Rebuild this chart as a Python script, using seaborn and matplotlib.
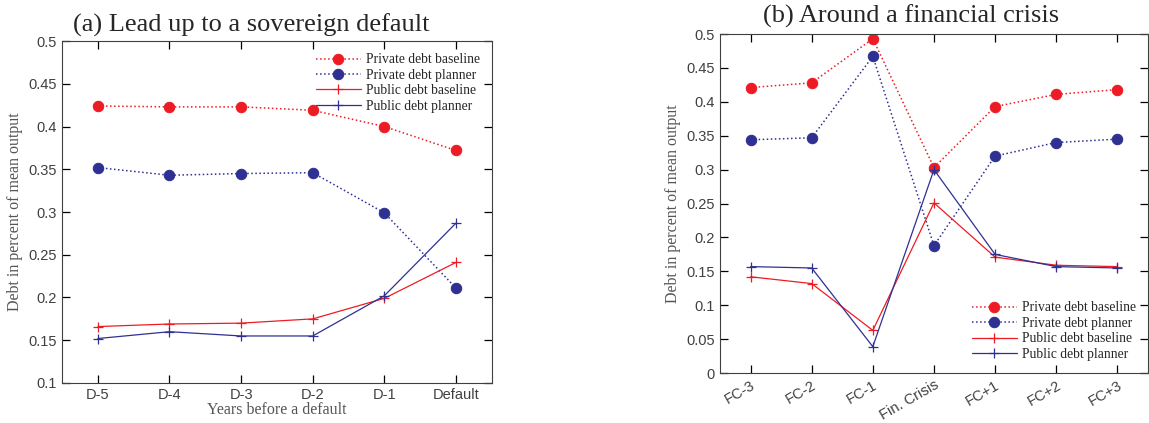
import numpy as np
import matplotlib
matplotlib.use("Agg")
import matplotlib.pyplot as plt
import seaborn as sns

# ---- data ----
cats_a = ["D-5", "D-4", "D-3", "D-2", "D-1", "Default"]
priv_base_a = [0.424, 0.423, 0.423, 0.419, 0.400, 0.372]
priv_plan_a = [0.352, 0.343, 0.345, 0.346, 0.299, 0.211]
pub_base_a = [0.166, 0.169, 0.170, 0.175, 0.199, 0.241]
pub_plan_a = [0.152, 0.160, 0.155, 0.155, 0.202, 0.287]

cats_b = ["FC-3", "FC-2", "FC-1", "Fin. Crisis", "FC+1", "FC+2", "FC+3"]
priv_base_b = [0.421, 0.428, 0.493, 0.303, 0.393, 0.411, 0.418]
priv_plan_b = [0.344, 0.347, 0.467, 0.188, 0.320, 0.340, 0.345]
pub_base_b = [0.142, 0.132, 0.063, 0.251, 0.171, 0.159, 0.157]
pub_plan_b = [0.157, 0.155, 0.039, 0.300, 0.175, 0.157, 0.155]

labels = ["Private debt baseline", "Private debt planner",
          "Public debt baseline", "Public debt planner"]

RED = "#ED1C24"
BLUE = "#2E3192"
AXC = "#404040"
SERIF = ["Liberation Serif", "DejaVu Serif"]

sns.set_theme(style="white", rc={
    "xtick.bottom": True, "xtick.top": True,
    "ytick.left": True, "ytick.right": True,
    "xtick.direction": "in", "ytick.direction": "in",
    "xtick.major.size": 6, "ytick.major.size": 6,
    "xtick.major.width": 0.9, "ytick.major.width": 0.9,
    "xtick.color": "black", "ytick.color": "black",
    "xtick.labelcolor": AXC, "ytick.labelcolor": AXC,
    "xtick.labelsize": 10.5, "ytick.labelsize": 10.5,
    "axes.edgecolor": AXC, "axes.linewidth": 0.8,
})
plt.rcParams["font.family"] = ["Liberation Sans", "DejaVu Sans"]

fig = plt.figure(figsize=(11.49, 4.23), dpi=100)
ax_a = fig.add_axes([0.054, 0.0946, 0.374, 0.8084])
ax_b = fig.add_axes([0.6266, 0.118, 0.3725, 0.8016])


def fmt(v):
    return f"{v:.2f}".rstrip("0").rstrip(".")


def draw(ax, cats, pb, pp, ub, up, ymin):
    x = np.arange(len(cats))
    sns.lineplot(x=x, y=pb, ax=ax, color=RED, linestyle=":", marker="o",
                 markersize=7.5, markeredgecolor=RED, linewidth=1.1, sort=False,
                 label=labels[0], zorder=1)
    sns.lineplot(x=x, y=pp, ax=ax, color=BLUE, linestyle=":", marker="o",
                 markersize=7.5, markeredgecolor=BLUE, linewidth=1.1, sort=False,
                 label=labels[1], zorder=1)
    sns.lineplot(x=x, y=ub, ax=ax, color=RED, linestyle="-", marker="+",
                 markersize=7, markeredgecolor=RED, markeredgewidth=0.9,
                 linewidth=0.9, sort=False, label=labels[2], zorder=1)
    sns.lineplot(x=x, y=up, ax=ax, color=BLUE, linestyle="-", marker="+",
                 markersize=7, markeredgecolor=BLUE, markeredgewidth=0.9,
                 linewidth=0.9, sort=False, label=labels[3], zorder=1)
    ax.set_xticks(x)
    ax.set_xlim(-0.5, len(cats) - 0.5)
    yt = np.round(np.arange(ymin, 0.501, 0.05), 2)
    ax.set_yticks(yt)
    ax.set_yticklabels([fmt(v) for v in yt])
    ax.set_ylim(ymin, 0.5)
    ax.tick_params(direction="in", top=True, right=True, bottom=True,
                   left=True, length=6, width=0.9)
    ax.set_ylabel("Debt in percent of mean output", family=SERIF,
                  fontsize=11.5, color="#555555", labelpad=4)


legkw = dict(frameon=False, prop={"family": SERIF, "size": 9.8},
             handlelength=3.3, handletextpad=0.35, labelspacing=0.18,
             borderaxespad=0.5)

draw(ax_a, cats_a, priv_base_a, priv_plan_a, pub_base_a, pub_plan_a, 0.1)
ax_a.set_xticklabels(cats_a)
ax_a.set_xlabel("Years before a default", family=SERIF, fontsize=11.5,
                color="#555555", labelpad=0)
ax_a.set_title("(a) Lead up to a sovereign default", family=SERIF,
               fontsize=19, pad=7, x=0.44)
ax_a.legend(loc="upper right", **legkw)

draw(ax_b, cats_b, priv_base_b, priv_plan_b, pub_base_b, pub_plan_b, 0.0)
ax_b.set_xticklabels(cats_b, rotation=30, ha="right", rotation_mode="anchor")
ax_b.set_xlabel("")
ax_b.set_title("(b) Around a financial crisis", family=SERIF,
               fontsize=19, pad=8, x=0.446)
ax_b.legend(loc="lower right", **legkw)

fig.savefig("out.png", dpi=100)
